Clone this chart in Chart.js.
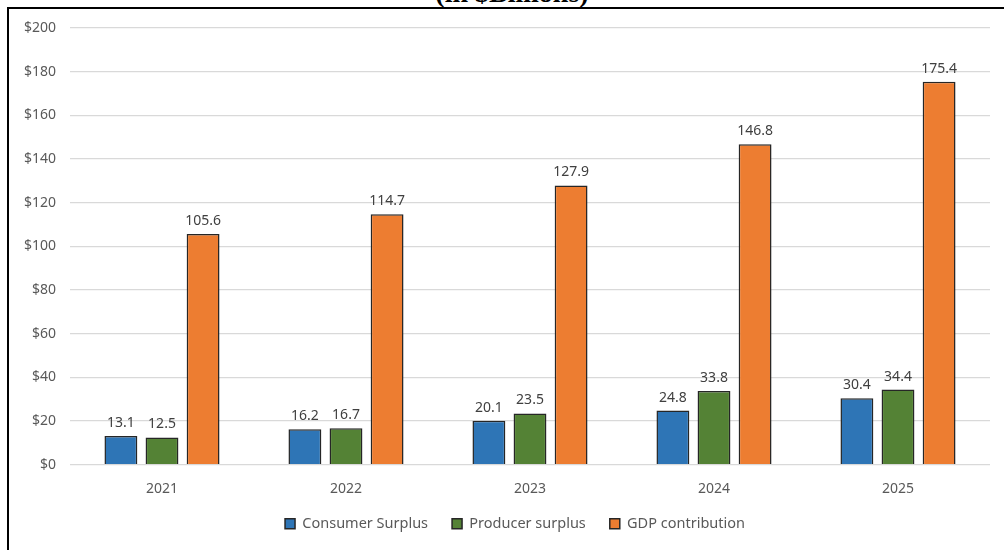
<!DOCTYPE html>
<html>
<head>
<meta charset="utf-8">
<script src="https://cdn.jsdelivr.net/npm/chart.js@4"></script>
<style>
  body { margin: 0; background: #fff; overflow: hidden; }
  #wrap { position: relative; width: 1004px; height: 550px; overflow: hidden; }
  #frame { position: absolute; left: 7px; top: 7px; width: 1020px; height: 580px; border: 2px solid #000; pointer-events: none; }
  #title { position: absolute; left: 0; width: 1024px; top: -23px; text-align: center; font: bold 28px "Liberation Serif", serif; color: #000; }
  canvas { position: absolute; left: 0; top: 0; }
</style>
</head>
<body>
<div id="wrap">
  <div id="title">(in $Billions)</div>
  <canvas id="chart" width="1004" height="550"></canvas>
  <div id="frame"></div>
</div>
<script>
const years = ["2021", "2022", "2023", "2024", "2025"];
const consumerSurplus = [13.1, 16.2, 20.1, 24.8, 30.4];
const producerSurplus = [12.5, 16.7, 23.5, 33.8, 34.4];
const gdpContribution = [105.6, 114.7, 127.9, 146.8, 175.4];

// simple value labels above each bar
const barLabels = {
  id: "barLabels",
  afterLayout(chart) {
    // legend sits a little right of centre and closer to the axis in the original
    chart.legend.left += 15;
    chart.legend.right += 15;
    chart.legend.top -= 13;
    chart.legend.bottom -= 13;
  },
  afterDatasetsDraw(chart) {
    const ctx = chart.ctx;
    ctx.save();
    ctx.font = "14px 'Noto Sans'";
    ctx.fillStyle = "#404040";
    ctx.textAlign = "center";
    ctx.textBaseline = "middle";
    chart.data.datasets.forEach((ds, i) => {
      chart.getDatasetMeta(i).data.forEach((bar, j) => {
        ctx.fillText(ds.data[j].toFixed(1), bar.x, bar.y - 13);
      });
    });
    ctx.restore();
  }
};

const ctx = document.getElementById("chart").getContext("2d");
const myChart = new Chart(ctx, {
  type: "bar",
  data: {
    labels: years,
    datasets: [
      { label: "Consumer Surplus", data: consumerSurplus, backgroundColor: "#2E75B6" },
      { label: "Producer surplus", data: producerSurplus, backgroundColor: "#548235" },
      { label: "GDP contribution", data: gdpContribution, backgroundColor: "#ED7D31" }
    ]
  },
  options: {
    responsive: false,
    animation: false,
    layout: { padding: { left: 10, right: 14, top: 28, bottom: -4 } },
    datasets: {
      bar: {
        categoryPercentage: 0.67,
        barPercentage: 0.8,
        borderColor: "#262626",
        borderWidth: 1.5
      }
    },
    scales: {
      x: {
        grid: { display: false },
        border: { display: false },
        ticks: { color: "#595959", font: { family: "Noto Sans", size: 14 }, padding: 8 }
      },
      y: {
        min: 0,
        max: 200,
        afterFit(scale) { scale.width = 60; },
        grid: { color: "#d9d9d9", lineWidth: 1.3, drawTicks: false },
        border: { display: false },
        ticks: {
          stepSize: 20,
          padding: 14,
          color: "#595959",
          font: { family: "Noto Sans", size: 14 },
          callback: (v) => "$" + v
        }
      }
    },
    plugins: {
      legend: {
        position: "bottom",
        labels: {
          boxWidth: 10,
          boxHeight: 10,
          padding: 24,
          color: "#595959",
          font: { family: "Noto Sans", size: 14.5 }
        }
      },
      tooltip: { enabled: false }
    }
  },
  plugins: [barLabels]
});
</script>
</body>
</html>
